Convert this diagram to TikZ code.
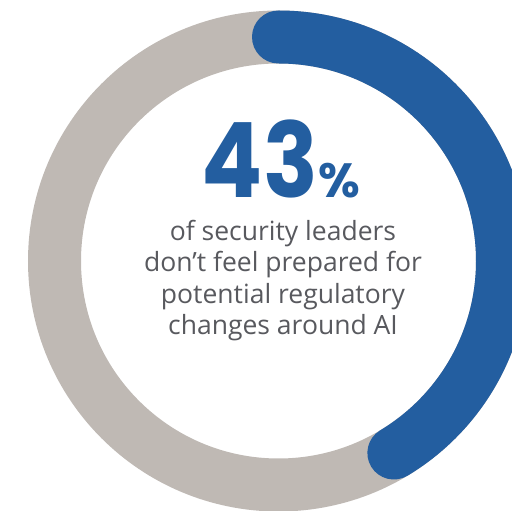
\documentclass[tikz,border=0pt]{standalone}
\usepackage{fontspec}
\setmainfont{Open Sans}
\newfontfamily\numfont{Poppins}
\definecolor{ringblue}{RGB}{35,94,160}
\definecolor{ringgray}{RGB}{191,185,180}
\definecolor{txtgray}{RGB}{88,89,94}

\begin{document}
\begin{tikzpicture}[x=1pt,y=1pt,
    ring/.style={line width=53pt},
    big/.style={text=ringblue,inner sep=0pt,text depth=0pt,font=\numfont\bfseries},
    caption/.style={text=txtgray,align=center,inner sep=0pt,
      font=\fontsize{26.5}{31.5}\selectfont}]
  \useasboundingbox (0,0) rectangle (512,511);
  \coordinate (c) at (278.5,250);
  \coordinate (s) at ([shift={(90:224)}]c);
  % gray track, then the blue share on top
  \draw[ring,ringgray] (c) circle (224);
  \draw[ring,ringblue,line cap=round] (s) arc (90:-59:224);
  \node[big,anchor=base east,font=\numfont\bfseries\fontsize{104}{104}\selectfont] (num) at (318,313) {\scalebox{0.87}[1]{43}};
  \node[big,anchor=base west,font=\numfont\bfseries\fontsize{48}{48}\selectfont] (pct) at (num.base east) {\%};
  \node[caption,anchor=base] (txt) at (283,176)
    {of security leaders\\don’t feel prepared for\\potential regulatory\\changes around AI};
\end{tikzpicture}
\end{document}
